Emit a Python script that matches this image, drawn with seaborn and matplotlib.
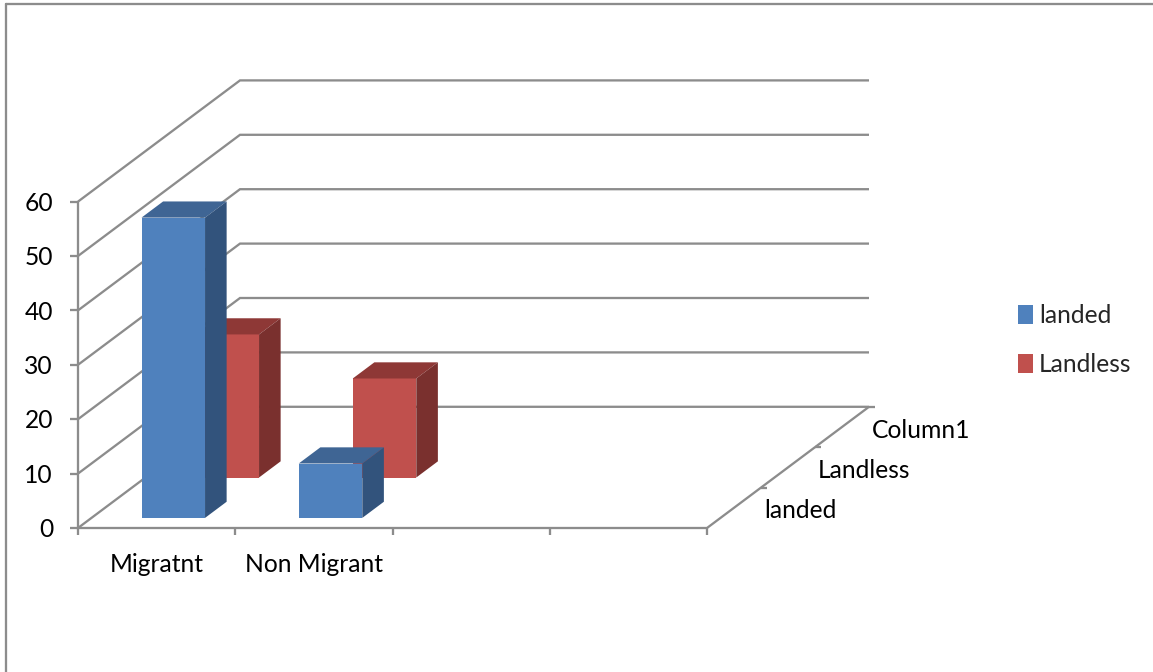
import numpy as np
import pandas as pd
import matplotlib
matplotlib.use("Agg")
import matplotlib.pyplot as plt
from matplotlib.patches import Polygon, Patch
import seaborn as sns

# ---- data ----
categories = ["Migratnt", "Non Migrant"]
landed = [55.2, 10.0]
landless = [26.3, 18.2]
series_names = ["landed", "Landless"]
depth_labels = ["landed", "Landless", "Column1"]
value_ticks = [0, 10, 20, 30, 40, 50, 60]
n_slots = 4

# ---- style ----
W, H = 1153, 672
PX_CAT, PX_VAL = 157.25, 5.44      # pixels per category / per value unit
X0, Y0 = 78.0, 528.0               # front-left floor corner in pixels
DX, DY = 54.0, 40.4                # oblique shift of one depth slot, pixels
BAR_W, BAR_C = 0.404, 0.52
BAR_D0, BAR_D1 = 0.25, 0.65        # bar extent within a depth slot
GRID = "#8C8C8C"
LW = 1.65
BLUE = ("#4F81BD", "#3F6594", "#32537C")
RED = ("#C0504D", "#8E3836", "#7A302E")

sns.set_theme(style="white")
plt.rcParams["font.family"] = ["Lato", "DejaVu Sans"]
FS = 17.7

fig = plt.figure(figsize=(W / 100, H / 100), dpi=100, facecolor="white")
ax = fig.add_axes([0, 0, 1, 1])


def proj(c, v, d):
    """Oblique projection: category position, value, depth slot -> axes data."""
    return c + d * DX / PX_CAT, v + d * DY / PX_VAL


def set_limits():
    ax.set_xlim(-X0 / PX_CAT, (W - X0) / PX_CAT)
    ax.set_ylim(-(H - Y0) / PX_VAL, Y0 / PX_VAL)


def line(pts, **kw):
    xs, ys = zip(*pts)
    ax.plot(xs, ys, color=GRID, lw=LW, solid_capstyle="butt",
            solid_joinstyle="miter", zorder=2, **kw)


def draw_series(values, slot, colors, z):
    d0 = slot + BAR_D0
    d1 = slot + BAR_D1
    centers = [i + BAR_C + d0 * DX / PX_CAT for i in range(len(values))]
    lift = d0 * DY / PX_VAL
    sns.barplot(x=centers, y=values, native_scale=True, width=BAR_W,
                bottom=lift, color=colors[0], saturation=1, errorbar=None,
                ax=ax, zorder=z, linewidth=0)
    for i, v in enumerate(values):
        l = i + BAR_C - BAR_W / 2
        r = i + BAR_C + BAR_W / 2
        top = [proj(l, v, d0), proj(r, v, d0), proj(r, v, d1), proj(l, v, d1)]
        side = [proj(r, 0, d0), proj(r, v, d0), proj(r, v, d1), proj(r, 0, d1)]
        ax.add_patch(Polygon(top, closed=True, fc=colors[1], ec="none", zorder=z))
        ax.add_patch(Polygon(side, closed=True, fc=colors[2], ec="none", zorder=z))


# bars, back series first
draw_series(landless, 1, RED, 3)
draw_series(landed, 0, BLUE, 4)
set_limits()

# walls and floor
xmax = n_slots
dmax = 3
for v in value_ticks:
    line([proj(0, v, 0), proj(0, v, dmax), proj(xmax, v, dmax)])
    line([proj(-8 / PX_CAT, v, 0), proj(0, v, 0)])
    x, y = proj(-25 / PX_CAT, v, 0)
    ax.text(x, y - 0.3, str(v), ha="right", va="center", fontsize=FS, color="black")
line([proj(0, 60, 0), proj(0, 0, 0), proj(xmax, 0, 0), proj(xmax, 0, dmax)])
for c in range(n_slots + 1):
    line([proj(c, 0, 0), proj(c, -7 / PX_VAL, 0)])
for d in range(1, dmax + 1):
    xa, ya = proj(xmax, 0, d)
    line([(xa, ya), (xa + 6 / PX_CAT, ya)])

# category labels
for i, name in enumerate(categories):
    x, y = proj(i + 0.5, -36 / PX_VAL, 0)
    ax.text(x, y, name, ha="center", va="center", fontsize=FS, color="black")

# depth-axis labels
for i, name in enumerate(depth_labels):
    x, y = proj(xmax, 0, i + 0.5)
    ax.text(x + 30 / PX_CAT, y - 3 / PX_VAL, name, ha="left", va="center",
            fontsize=FS, color="black")

# outer chart border, cut off by the image on the other sides
ax.plot([-X0 / PX_CAT + 6 / PX_CAT] * 2, [-(H - Y0) / PX_VAL, (Y0 - 3.5) / PX_VAL],
        color=GRID, lw=LW)
ax.plot([-X0 / PX_CAT + 6 / PX_CAT, (W - X0) / PX_CAT], [(Y0 - 3.5) / PX_VAL] * 2,
        color=GRID, lw=LW)

# legend
handles = [Patch(fc=BLUE[0], ec="none", label=series_names[0]),
           Patch(fc=RED[0], ec="none", label=series_names[1])]
ax.legend(handles=handles, loc="center left", bbox_to_anchor=(998 / W, 1 - 340 / H),
          frameon=False, fontsize=FS, handlelength=0.61, handleheight=0.85,
          handletextpad=0.25, labelspacing=1.06, borderpad=0.3)

ax.axis("off")
set_limits()
fig.savefig("out.png", dpi=100)
